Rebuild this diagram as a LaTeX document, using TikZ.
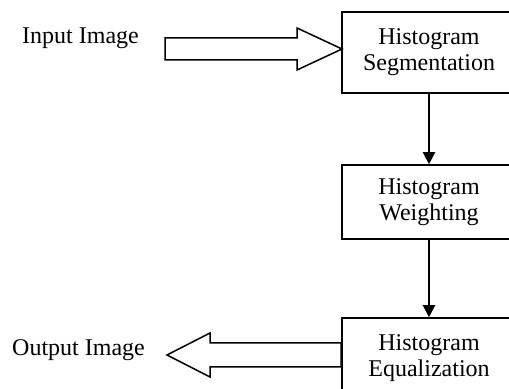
\documentclass[tikz,border=0pt]{standalone}
\usepackage{fontspec}
\setmainfont{Liberation Serif}
\usetikzlibrary{arrows.meta}

\begin{document}
\begin{tikzpicture}[x=0.5pt,y=-0.5pt]
            \tikzstyle{every node}+=[font=\fontsize{12}{13}\selectfont, inner sep=0pt]
            \tikzstyle{block}=[draw=black, line width=0.75pt, minimum width=87pt, align=center]
            \tikzstyle{flow}=[line width=1pt, -{Triangle[width=6pt,length=6pt]}]
            \tikzstyle{hollow}=[draw=black, line width=0.75pt, fill=white, line join=miter]
            \useasboundingbox (0,0) rectangle (509,389);
            \clip (0,0) rectangle (509,389);
            \coordinate (intip) at (342,49);
            \coordinate (outtip) at (167,355);
            \draw [hollow] (intip) -- ++(-45,-21) -- ++(0,10) -- ++(-132,0) -- ++(0,22) -- ++(132,0) -- ++(0,10) -- cycle;
            \draw [hollow] (outtip) -- ++(43,-22) -- ++(0,10) -- ++(131,0) -- ++(0,24) -- ++(-131,0) -- ++(0,10) -- cycle;
            \node [block, minimum height=40.5pt] (seg) at (429,52.5) {Histogram\\Segmentation};
            \node [block, minimum height=37pt] (wei) at (429,202) {Histogram\\Weighting};
            \node [block, minimum height=40pt] (equ) at (429,358) {Histogram\\Equalization};
            \node [anchor=base] (input) at (80.5,44) {Input Image};
            \node [anchor=base] (output) at (78.5,356) {Output Image};
            \draw [flow] (seg) -- (wei);
            \draw [flow] (wei) -- (equ);
        \end{tikzpicture}
\end{document}
